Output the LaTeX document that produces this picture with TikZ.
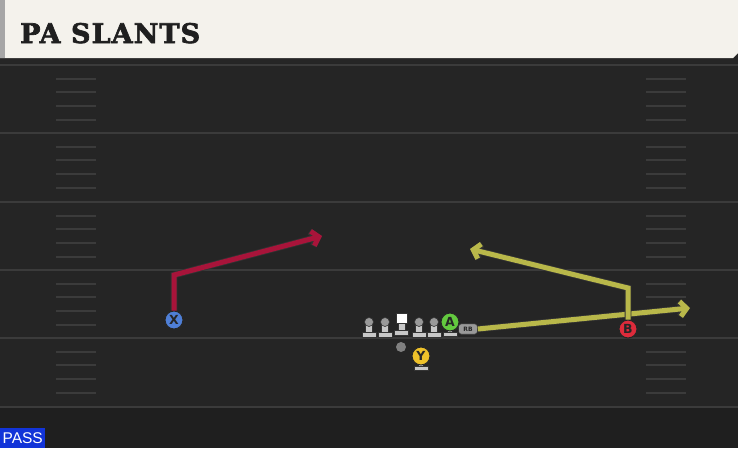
\documentclass[tikz,border=0pt]{standalone}
\usepackage{fontspec}
\setmainfont{DejaVu Serif}
\setsansfont{DejaVu Sans}
\newfontfamily\titlefont{DejaVu Serif}[BoldFeatures={FakeBold=2.4}, LetterSpace=4]
\newfontfamily\passfont{Liberation Sans}
\usetikzlibrary{arrows.meta}

\definecolor{fieldbg}{HTML}{252525}
\definecolor{fieldline}{HTML}{3B3B3B}
\definecolor{headbg}{HTML}{F4F2EC}
\definecolor{redroute}{HTML}{A8143A}
\definecolor{yelroute}{HTML}{B9B84A}
\definecolor{xblue}{HTML}{4F7FD6}
\definecolor{agreen}{HTML}{63C93F}
\definecolor{bred}{HTML}{DD2B3B}
\definecolor{yyellow}{HTML}{EDC12A}
\definecolor{passblue}{HTML}{1234D8}

\tikzset{
  player/.style={circle, draw=black!85, line width=1pt, minimum size=18pt,
    inner sep=0pt, font=\sffamily\bfseries\fontsize{12.5}{12.5}\selectfont, text=black!85},
  route/.style={line width=5pt, line join=miter,
    preaction={draw=black!80, line width=6.6pt},
    -{Straight Barb[length=6.5pt, width=15pt]}},
  lineman/.style={fill=black!22, draw=black!80, line width=0.6pt},
}

\begin{document}
\begin{tikzpicture}[x=1pt, y=-1pt]
  \useasboundingbox (0,0) rectangle (738,448);

  % field
  \fill[fieldbg] (0,0) rectangle (738,448);
  \fill[black!88] (0,407) rectangle (738,448);
  \foreach \y in {65,133,202,270,338,407} {
    \draw[fieldline, line width=1.8pt] (0,\y) -- (738,\y);
  }

  % hash marks
  \foreach \y in {65,133,202,270,338} {
    \foreach \d in {14,27,41,55} {
      \draw[fieldline, line width=1.5pt] (56,\y+\d) -- (96,\y+\d);
      \draw[fieldline, line width=1.5pt] (646,\y+\d) -- (686,\y+\d);
    }
  }

  % header
  \fill[black!85] (0,58) rectangle (738,63);
  \fill[headbg] (0,0) -- (738,0) -- (738,53) -- (733,58) -- (0,58) -- cycle;
  \fill[black!35] (0,0) rectangle (5,58);
  \node[anchor=base west, inner sep=0pt, text=black!88,
    font=\titlefont\bfseries\fontsize{27}{27}\selectfont] (title) at (20,43) {PA SLANTS};

  % offensive line
  \foreach \x in {369,385,419,434} {
    \filldraw[lineman] (\x-7,332.5) rectangle (\x+7,337);
    \filldraw[lineman] (\x-3.5,322) rectangle (\x+3.5,332.5);
    \filldraw[lineman, fill=black!40] (\x,322) circle (4.5);
  }
  \filldraw[lineman] (394.5,330.5) rectangle (408.5,335);
  \filldraw[lineman] (398,323) rectangle (405,330.5);
  \filldraw[fill=white, draw=black!80, line width=0.6pt] (396,313) rectangle (407,323);
  \fill[black!50] (401,347) circle (5);

  % skill players
  \filldraw[lineman] (447.5,328) rectangle (452.5,333);
  \filldraw[lineman] (443,332) rectangle (457,336.5);
  \filldraw[lineman] (418.5,362) rectangle (423.5,367);
  \filldraw[lineman] (414,366) rectangle (428,370.5);
  \node[player, fill=xblue] (X) at (174,320) {X};
  \node[player, fill=agreen] (A) at (450,322) {A};
  \node[player, fill=bred] (B) at (628,329) {B};
  \node[player, fill=yyellow] (Y) at (421,356) {Y};
  \node[rounded corners=3pt, fill=black!40, draw=black!80, line width=0.6pt,
    minimum width=19pt, minimum height=10.5pt, inner sep=0pt, text=black!85,
    font=\sffamily\bfseries\fontsize{6}{6}\selectfont] (RB) at (468,329) {RB};

  % routes
  \coordinate (xbreak) at (174,275);
  \coordinate (xend) at (322,236);
  \coordinate (bbreak) at (628,288);
  \coordinate (bend) at (470,249);
  \coordinate (rbend) at (690,308);
  \draw[route, redroute] (X.north) -- (xbreak) -- (xend);
  \draw[route, yelroute] (RB.east) -- (rbend);
  \draw[route, yelroute] (B.north) -- (bbreak) -- (bend);

  % play type
  \node[anchor=south west, fill=passblue, text=white, minimum width=45pt,
    minimum height=20pt, inner sep=0pt,
    font=\passfont\fontsize{15.5}{15.5}\selectfont] (pass) at (0,448) {PASS};
\end{tikzpicture}
\end{document}
